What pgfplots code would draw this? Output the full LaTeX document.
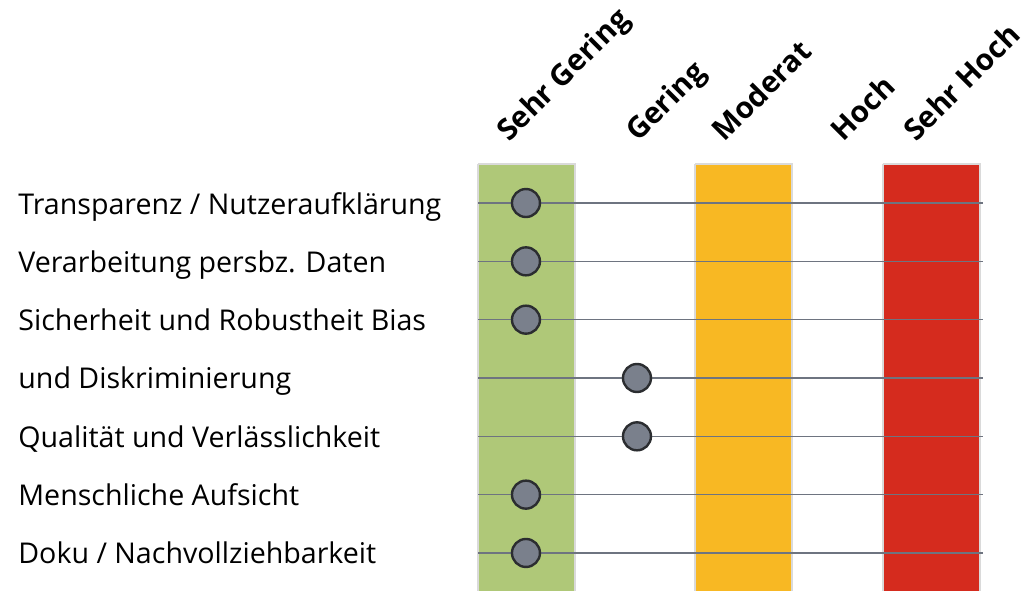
\documentclass[border=0pt]{standalone}
\usepackage{pgfplots}
\pgfplotsset{compat=1.18}
\usepackage{fontspec}
\setmainfont{Open Sans}
\definecolor{bgreen}{HTML}{AFC878}
\definecolor{borange}{HTML}{F8B823}
\definecolor{bred}{HTML}{D52B1E}
\definecolor{bborder}{HTML}{DADADA}
\definecolor{rowline}{HTML}{6E7480}
\definecolor{dotfill}{HTML}{7A808C}
\definecolor{dotdraw}{HTML}{2B2D30}
\begin{document}
\begin{tikzpicture}
\useasboundingbox (0,0) rectangle (513pt,295pt);
\begin{axis}[
  at={(239pt,0pt)}, anchor=south west,
  scale only axis, width=252.5pt, height=213pt,
  xmin=0.568, xmax=5.117,
  ymin=0.331, ymax=7.635, y dir=reverse,
  clip=false,
  axis line style={draw=none},
  major tick length=0pt,
  ytick={1,...,7},
  yticklabels={Transparenz / Nutzeraufklärung, Verarbeitung persbz. Daten, Sicherheit und Robustheit Bias, und Diskriminierung, Qualität und Verlässlichkeit, Menschliche Aufsicht, Doku / Nachvollziehbarkeit},
  yticklabel style={anchor=base west, inner sep=0pt, xshift=-230pt, yshift=-5.5pt, font=\fontsize{14.3}{17}\selectfont},
  xticklabel pos=upper,
  xtick={0.748,1.910,2.685,3.757,4.414},
  xticklabels={Sehr Gering, Gering, Moderat, Hoch, Sehr Hoch},
  xticklabel style={xshift=5.5pt, yshift=10.5pt, rotate=45, anchor=base west, inner sep=0pt, font=\fontsize{14.8}{17}\selectfont\bfseries},
]
\addplot[fill=bgreen, draw=bborder, line width=1pt] coordinates {(0.568,0.331) (1.441,0.331) (1.441,7.9) (0.568,7.9) (0.568,0.331)};
\addplot[fill=borange, draw=bborder, line width=1pt] coordinates {(2.523,0.331) (3.396,0.331) (3.396,7.9) (2.523,7.9) (2.523,0.331)};
\addplot[fill=bred, draw=bborder, line width=1pt] coordinates {(4.216,0.331) (5.089,0.331) (5.089,7.9) (4.216,7.9) (4.216,0.331)};
\pgfplotsinvokeforeach{1,...,7}{
  \addplot[rowline, line width=0.8pt] coordinates {(0.568,#1) (5.117,#1)};
}
\addplot[only marks, mark=*, mark size=7pt, mark options={fill=dotfill, draw=dotdraw, line width=1.2pt}] table {
x y
1 1
1 2
1 3
2 4
2 5
1 6
1 7
};
\end{axis}
\end{tikzpicture}
\end{document}
